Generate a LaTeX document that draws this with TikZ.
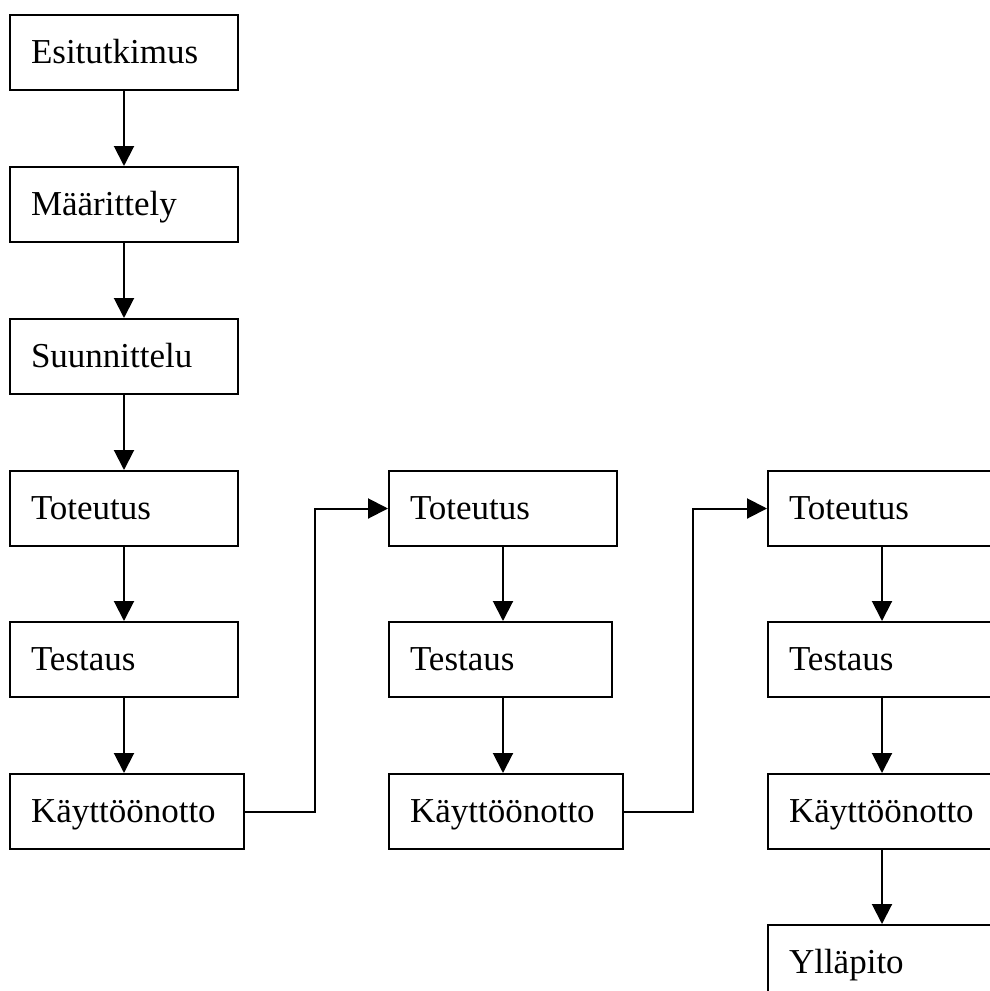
\documentclass[tikz,border=0pt]{standalone}
\usepackage{fontspec}
\setmainfont{Liberation Serif}
\usetikzlibrary{arrows.meta}
\tikzset{
    % Box style - left aligned text
    phase/.style={
        rectangle,
        draw=black,
        line width=2pt,
        anchor=north west,
        minimum height=75pt,
        inner xsep=21pt,
        inner ysep=0pt,
        text width=186pt,
        text height=24pt,
        text depth=1.5pt,
        align=left,
        font=\fontsize{35}{40}\selectfont
    },
    wide/.style={text width=192pt},
    narrow/.style={text width=181pt},
    % Arrow style
    arrow/.style={
        -{Triangle[width=20pt,length=20pt]},
        line width=2pt,
        draw=black
    }
}

\begin{document}
\begin{tikzpicture}[x=1pt, y=-1pt]
    \useasboundingbox (0,0) rectangle (990,991);
    \clip (0,0) rectangle (990,991);

    % First column
    \node[phase] (esi) at (9,14) {Esitutkimus};
    \node[phase] (maar) at (9,166) {Määrittely};
    \node[phase] (suun) at (9,318) {Suunnittelu};
    \node[phase] (tot1) at (9,470) {Toteutus};
    \node[phase] (tes1) at (9,621) {Testaus};
    \node[phase, wide] (kay1) at (9,773) {Käyttöönotto};

    % Second column
    \node[phase] (tot2) at (388,470) {Toteutus};
    \node[phase, narrow] (tes2) at (388,621) {Testaus};
    \node[phase, wide] (kay2) at (388,773) {Käyttöönotto};

    % Third column
    \node[phase] (tot3) at (767,470) {Toteutus};
    \node[phase] (tes3) at (767,621) {Testaus};
    \node[phase, wide] (kay3) at (767,773) {Käyttöönotto};
    \node[phase] (yll) at (767,924) {Ylläpito};

    % Arrows down
    \foreach \a/\b in {esi/maar, maar/suun, suun/tot1, tot1/tes1, tes1/kay1} {
        \draw[arrow] (\a.south -| tot1.south) -- (\b.north -| tot1.south);
    }
    \foreach \a/\b in {tot2/tes2, tes2/kay2} {
        \draw[arrow] (\a.south -| tot2.south) -- (\b.north -| tot2.south);
    }
    \foreach \a/\b in {tot3/tes3, tes3/kay3, kay3/yll} {
        \draw[arrow] (\a.south -| tot3.south) -- (\b.north -| tot3.south);
    }

    % Iteration connectors
    \draw[arrow] (kay1.east) -- ++(70,0) |- (tot2.west);
    \draw[arrow] (kay2.east) -- ++(69,0) |- (tot3.west);
\end{tikzpicture}
\end{document}
